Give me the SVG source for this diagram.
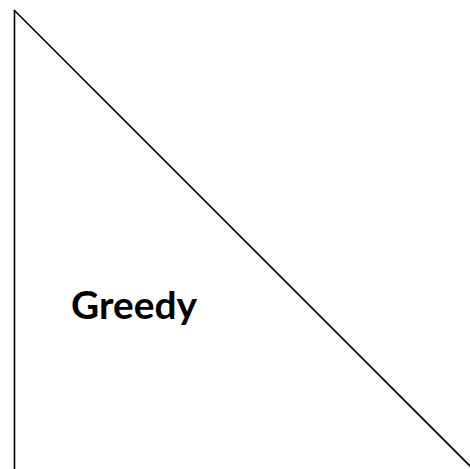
<svg xmlns="http://www.w3.org/2000/svg" width="470" height="469" viewBox="0 0 470 469">
<style>
.edge{stroke:#000;stroke-width:1.6;fill:none}
.lbl{font-family:Lato,"Open Sans","Liberation Sans",sans-serif;font-weight:bold;font-size:38px;fill:#000}
</style>
<rect width="470" height="469" fill="#fff"/>
<g id="connectors">
<line class="edge" x1="14.5" y1="10" x2="14.5" y2="470"/>
<line class="edge" x1="14" y1="10" x2="474" y2="470"/>
</g>
<g id="greedy">
<text class="lbl" x="71" y="319" textLength="126" lengthAdjust="spacingAndGlyphs">Greedy</text>
</g>
</svg>
